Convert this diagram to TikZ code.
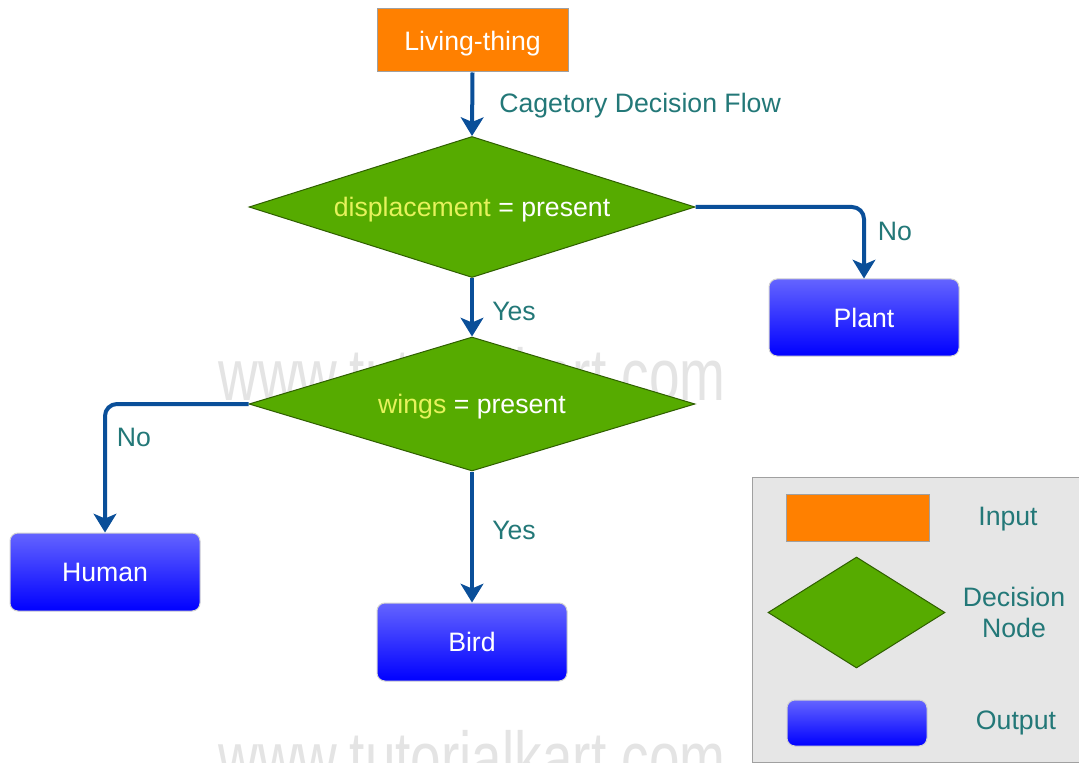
\documentclass[tikz,border=0pt]{standalone}
\usepackage{fontspec}
\setmainfont{Liberation Sans}
\usetikzlibrary{shapes.geometric,arrows.meta}
\definecolor{orangeF}{HTML}{FF8000}
\definecolor{greenF}{HTML}{56AB00}
\definecolor{greenB}{HTML}{2F5F00}
\definecolor{arrowC}{HTML}{0A4F99}
\definecolor{tealT}{HTML}{237878}
\definecolor{yelT}{HTML}{E6F25C}
\definecolor{legbg}{HTML}{E6E6E6}
\definecolor{boxB}{HTML}{A0A0A0}
\definecolor{bluetop}{HTML}{6464FF}
\definecolor{bluebot}{HTML}{0000FF}
\definecolor{wmC}{HTML}{E4E4E4}
\begin{document}
\begin{tikzpicture}[x=0.75pt,y=-0.75pt,
  font=\fontsize{20}{24}\selectfont,
  inbox/.style={draw=boxB, line width=0.75pt, fill=orangeF, text=white, inner sep=0pt, text height=14.4pt, text depth=0pt},
  outbox/.style={draw=gray!35, line width=0.75pt, rounded corners=6pt, top color=bluetop, bottom color=bluebot, text=white, inner sep=0pt, text height=14.4pt, text depth=0pt},
  decision/.style={diamond, draw=greenB, line width=0.75pt, fill=greenF, text=white, inner sep=0pt, text height=14.4pt, text depth=0pt},
  flow/.style={draw=arrowC, line width=3pt, -{Stealth[length=14pt,width=17pt,inset=3.5pt]}, rounded corners=9pt},
  lbl/.style={text=tealT, inner sep=0pt},
  wm/.style={text=wmC, font=\fontsize{55}{60}\selectfont, inner sep=0pt, anchor=base}]
\clip (0,0) rectangle (1079,763);
\fill[white] (0,0) rectangle (1079,763);
% watermarks
\node[wm] (wm1) at (472,400) {\scalebox{0.75}[1]{www.tutorialkart.com}};
\node[wm] (wm2) at (472,783) {\scalebox{0.75}[1]{www.tutorialkart.com}};
% main nodes
\node[inbox, minimum width=143.25pt, minimum height=47.25pt] (lt) at (472.5,40.5) {Living-thing};
\node[decision, minimum width=334.5pt, minimum height=105.75pt, shape aspect=3.163] (d1) at (472,207) {\textcolor{yelT}{displacement} = present};
\node[outbox, minimum width=142.5pt, minimum height=57.75pt] (plant) at (864,317.5) {Plant};
\node[decision, minimum width=334.5pt, minimum height=100.5pt, shape aspect=3.328] (d2) at (472,404) {\textcolor{yelT}{wings} = present};
\node[outbox, minimum width=142.5pt, minimum height=58.5pt] (human) at (105,572) {Human};
\node[outbox, minimum width=142.5pt, minimum height=58.5pt] (bird) at (472,642) {Bird};
% connectors
\draw[flow] (lt.south) -- (d1.north);
\draw[flow] (d1.east) -| (plant.north);
\draw[flow] (d1.south) -- (d2.north);
\draw[flow] (d2.west) -| (human.north);
\draw[flow] (d2.south) -- (bird.north);
% labels
\node[lbl, anchor=west] (cdf) at (499,106) {Cagetory Decision Flow};
\node[lbl] (no1) at (895,231) {No};
\node[lbl] (yes1) at (514,311) {Yes};
\node[lbl] (no2) at (134,437) {No};
\node[lbl] (yes2) at (514,530) {Yes};
% legend
\node[draw=boxB, line width=0.75pt, fill=legbg, minimum width=247.5pt, minimum height=213.75pt, inner sep=0pt] (legend) at (917,619.5) {};
\node[inbox, minimum width=107.25pt, minimum height=35.25pt] (lgin) at (857.5,517.5) {};
\node[decision, minimum width=132.75pt, minimum height=83.25pt, shape aspect=1.595] (lgdec) at (856.5,612.5) {};
\node[outbox, minimum width=105pt, minimum height=34.5pt] (lgout) at (857,723) {};
\node[lbl] (tin) at (1008,519.5) {Input};
\node[lbl, align=center, font=\fontsize{20}{23.25}\selectfont] (tdec) at (1014,612) {Decision\\Node};
\node[lbl] (tout) at (1016,722.5) {Output};
\end{tikzpicture}
\end{document}
